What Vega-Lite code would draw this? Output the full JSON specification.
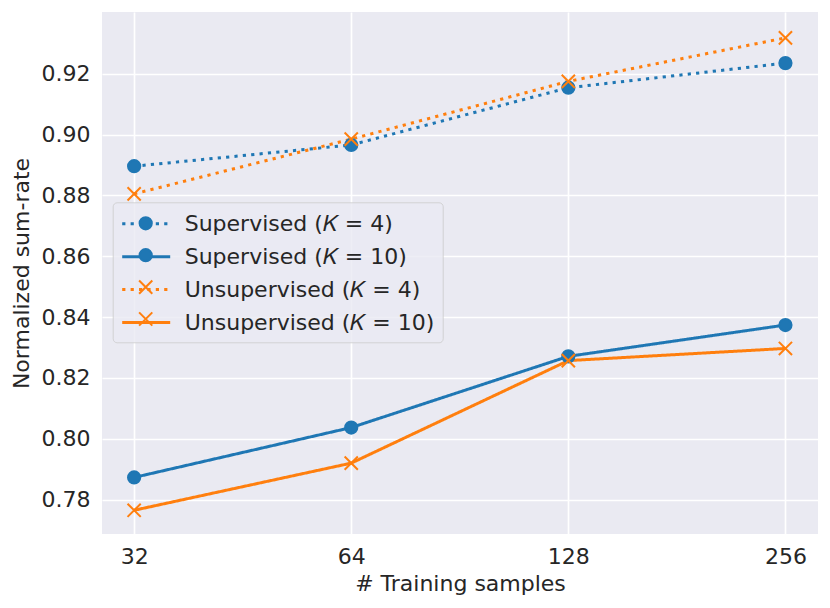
{
  "$schema": "https://vega.github.io/schema/vega-lite/v6.json",
  "width": 716,
  "height": 522,
  "autosize": {"type": "none"},
  "padding": {"left": 102, "top": 12, "right": 12, "bottom": 74},
  "background": "white",
  "data": {
    "values": [
      {"series": "Supervised (𝐾 = 4)", "order": 1, "samples": 32, "rate": 0.8896},
      {"series": "Supervised (𝐾 = 4)", "order": 1, "samples": 64, "rate": 0.8966},
      {"series": "Supervised (𝐾 = 4)", "order": 1, "samples": 128, "rate": 0.9154},
      {"series": "Supervised (𝐾 = 4)", "order": 1, "samples": 256, "rate": 0.9235},
      {"series": "Supervised (𝐾 = 10)", "order": 2, "samples": 32, "rate": 0.7873},
      {"series": "Supervised (𝐾 = 10)", "order": 2, "samples": 64, "rate": 0.8037},
      {"series": "Supervised (𝐾 = 10)", "order": 2, "samples": 128, "rate": 0.8271},
      {"series": "Supervised (𝐾 = 10)", "order": 2, "samples": 256, "rate": 0.8374},
      {"series": "Unsupervised (𝐾 = 4)", "order": 3, "samples": 32, "rate": 0.8805},
      {"series": "Unsupervised (𝐾 = 4)", "order": 3, "samples": 64, "rate": 0.8985},
      {"series": "Unsupervised (𝐾 = 4)", "order": 3, "samples": 128, "rate": 0.9175},
      {"series": "Unsupervised (𝐾 = 4)", "order": 3, "samples": 256, "rate": 0.9318},
      {"series": "Unsupervised (𝐾 = 10)", "order": 4, "samples": 32, "rate": 0.7765},
      {"series": "Unsupervised (𝐾 = 10)", "order": 4, "samples": 64, "rate": 0.7920},
      {"series": "Unsupervised (𝐾 = 10)", "order": 4, "samples": 128, "rate": 0.8257},
      {"series": "Unsupervised (𝐾 = 10)", "order": 4, "samples": 256, "rate": 0.8297}
    ]
  },
  "encoding": {
    "x": {
      "field": "samples",
      "type": "quantitative",
      "title": "# Training samples",
      "scale": {"type": "log", "base": 2, "domain": [28.88, 284.05], "nice": false},
      "axis": {"values": [32, 64, 128, 256], "format": "d", "labelPadding": 12, "titlePadding": 6, "labelFontSize": 22, "titleFontSize": 22}
    },
    "y": {
      "field": "rate",
      "type": "quantitative",
      "title": "Normalized sum-rate",
      "scale": {"domain": [0.7687, 0.9403], "nice": false, "zero": false},
      "axis": {"values": [0.78, 0.8, 0.82, 0.84, 0.86, 0.88, 0.9, 0.92], "format": ".2f", "labelPadding": 12, "titlePadding": 8, "labelFontSize": 22, "titleFontSize": 22}
    }
  },
  "layer": [
    {
      "mark": {"type": "line", "strokeWidth": 3, "strokeCap": "butt"},
      "encoding": {
        "color": {
          "field": "series",
          "type": "nominal",
          "scale": {
            "domain": ["Supervised (𝐾 = 4)", "Supervised (𝐾 = 10)", "Unsupervised (𝐾 = 4)", "Unsupervised (𝐾 = 10)"],
            "range": ["#1f77b4", "#1f77b4", "#ff7f0e", "#ff7f0e"]
          },
          "legend": {
            "title": null, "orient": "none", "legendX": 10.7, "legendY": 190.3,
            "symbolType": "M-2,0L2,0", "symbolSize": 576, "symbolStrokeWidth": 3, "symbolFillColor": "transparent",
            "labelFontSize": 22, "labelFont": "DejaVu Sans", "labelColor": "#262626", "labelLimit": 0,
            "padding": 8, "symbolOffset": 12, "labelOffset": 25, "rowPadding": 7.9,
            "fillColor": "rgba(234,234,242,0.8)", "strokeColor": "rgba(204,204,204,0.8)", "cornerRadius": 4
          }
        },
        "strokeDash": {
          "field": "series",
          "type": "nominal",
          "scale": {
            "domain": ["Supervised (𝐾 = 4)", "Supervised (𝐾 = 10)", "Unsupervised (𝐾 = 4)", "Unsupervised (𝐾 = 10)"],
            "range": [[3.2, 5.2], [1, 0], [3.2, 5.2], [1, 0]]
          },
          "legend": {
            "title": null, "orient": "none", "legendX": 10.7, "legendY": 190.3,
            "symbolType": "M-2,0L2,0", "symbolSize": 576, "symbolStrokeWidth": 3, "symbolFillColor": "transparent",
            "labelFontSize": 22, "labelFont": "DejaVu Sans", "labelColor": "#262626", "labelLimit": 0,
            "padding": 8, "symbolOffset": 12, "labelOffset": 25, "rowPadding": 7.9,
            "fillColor": "rgba(234,234,242,0.8)", "strokeColor": "rgba(204,204,204,0.8)", "cornerRadius": 4
          }
        }
      }
    },
    {
      "mark": {"type": "point", "size": 576, "strokeWidth": 2, "opacity": 1},
      "encoding": {
        "fill": {
          "field": "series",
          "type": "nominal",
          "sort": {"field": "order", "op": "min"},
          "scale": {"range": ["#1f77b4", "#1f77b4", "#ff7f0e", "#ff7f0e"]},
          "legend": {
            "title": null, "orient": "none", "legendX": 10.7, "legendY": 190.3,
            "symbolSize": 576, "symbolStrokeWidth": 2, "symbolOpacity": 1,
            "labelFontSize": 22, "labelFont": "DejaVu Sans", "labelOpacity": 0, "labelLimit": 0,
            "padding": 8, "symbolOffset": 12, "labelOffset": 25, "rowPadding": 7.9
          }
        },
        "stroke": {
          "field": "series",
          "type": "nominal",
          "sort": {"field": "order", "op": "min"},
          "scale": {"range": ["#1f77b4", "#1f77b4", "#ff7f0e", "#ff7f0e"]},
          "legend": {
            "title": null, "orient": "none", "legendX": 10.7, "legendY": 190.3,
            "symbolSize": 576, "symbolStrokeWidth": 2, "symbolOpacity": 1,
            "labelFontSize": 22, "labelFont": "DejaVu Sans", "labelOpacity": 0, "labelLimit": 0,
            "padding": 8, "symbolOffset": 12, "labelOffset": 25, "rowPadding": 7.9
          }
        },
        "shape": {
          "field": "series",
          "type": "nominal",
          "sort": {"field": "order", "op": "min"},
          "scale": {"range": [
            "M-0.51,0A0.51,0.51 0 1,0 0.51,0A0.51,0.51 0 1,0 -0.51,0Z",
            "M-0.51,0A0.51,0.51 0 1,0 0.51,0A0.51,0.51 0 1,0 -0.51,0Z",
            "M-0.55,-0.55L0.55,0.55M-0.55,0.55L0.55,-0.55",
            "M-0.55,-0.55L0.55,0.55M-0.55,0.55L0.55,-0.55"
          ]},
          "legend": {
            "title": null, "orient": "none", "legendX": 10.7, "legendY": 190.3,
            "symbolSize": 576, "symbolStrokeWidth": 2, "symbolOpacity": 1,
            "labelFontSize": 22, "labelFont": "DejaVu Sans", "labelOpacity": 0, "labelLimit": 0,
            "padding": 8, "symbolOffset": 12, "labelOffset": 25, "rowPadding": 7.9
          }
        }
      }
    }
  ],
  "config": {
    "view": {"fill": "#EAEAF2", "stroke": null},
    "axis": {
      "labelFont": "DejaVu Sans", "titleFont": "DejaVu Sans",
      "labelFontSize": 22, "titleFontSize": 22,
      "labelColor": "#262626", "titleColor": "#262626", "titleFontWeight": "normal",
      "grid": true, "gridColor": "#FFFFFF", "gridWidth": 1.7, "gridOpacity": 1,
      "ticks": false, "domain": false, "labelFlush": false
    }
  }
}
